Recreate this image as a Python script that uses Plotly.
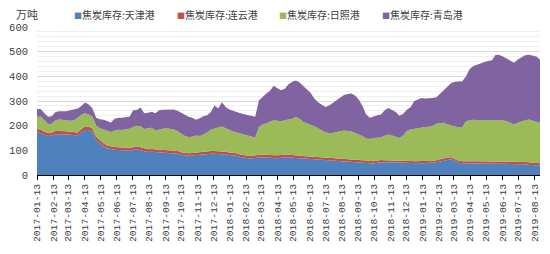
import pandas as pd
import plotly.graph_objects as go

start_date = "2017-01-13"
n_weeks = 137
dates = pd.date_range(start_date, periods=n_weeks, freq="7D")

series_names = ["焦炭库存:天津港", "焦炭库存:连云港", "焦炭库存:日照港", "焦炭库存:青岛港"]
colors = ["#4F81BD", "#C0504D", "#9BBB59", "#8064A2"]

tianjin = [172,170,162,158,160,165,165,163,164,163,
           160,160,172,182,182,175,142,128,116,108,
           104,102,101,100,98,98,100,104,100,96,
           93,94,93,92,91,90,90,89,86,82,
           79,78,79,81,83,84,86,86,86,86,
           85,83,81,80,78,73,69,68,68,70,
           72,72,71,69,68,68,70,72,72,70,
           70,68,67,66,65,64,63,62,62,61,
           60,59,58,57,57,56,55,54,53,52,
           50,47,50,52,52,52,51,51,50,50,
           50,49,48,48,48,49,50,50,52,55,
           58,62,64,58,50,48,47,47,47,47,
           47,47,47,46,46,46,45,45,45,44,
           44,44,43,42,41,40,38]

lianyun = [14,14,13,12,12,13,13,13,13,12,
           12,12,14,15,15,14,14,13,13,12,
           12,12,12,12,12,12,12,13,13,12,
           11,11,11,11,11,11,11,11,11,10,
           10,10,10,10,10,10,11,11,11,11,
           11,11,10,10,10,10,10,10,10,10,
           10,11,11,11,12,12,11,11,11,11,
           11,10,10,10,10,10,10,9,9,9,
           9,9,9,9,9,9,9,9,8,8,
           8,9,9,9,8,8,8,8,8,8,
           8,8,8,8,8,8,8,8,8,9,
           10,9,8,8,8,8,8,9,9,9,
           9,9,9,9,9,9,9,9,9,9,
           9,9,10,10,10,10,10]

rizhao = [49,54,47,36,36,44,47,46,45,45,
          50,60,58,53,48,46,44,49,56,60,
          58,66,70,70,75,78,83,83,85,78,
          86,87,76,82,86,89,87,84,81,76,
          69,66,66,69,65,70,75,87,91,93,
          101,96,91,86,84,85,86,82,78,72,
          113,122,128,135,142,140,137,139,143,147,
          155,150,138,134,130,124,117,109,101,100,
          101,106,111,114,112,111,106,101,97,88,
          88,94,91,91,100,104,101,96,92,102,
          120,127,131,135,137,138,138,142,148,147,
          144,135,130,130,135,139,163,166,168,166,
          166,165,166,165,167,167,168,164,156,152,
          159,165,169,173,171,166,164]

qingdao = [33,30,28,30,30,33,33,36,36,42,
           43,38,36,44,41,35,32,36,39,38,
           39,48,49,50,49,48,67,64,76,64,
           62,64,70,77,77,76,80,82,82,84,
           84,82,77,64,72,74,70,71,94,80,
           98,86,84,84,82,82,81,83,84,84,
           107,113,120,127,140,132,126,128,142,150,
           147,147,147,138,127,112,105,105,104,112,
           122,131,137,144,150,154,152,142,122,97,
           86,88,92,93,102,108,105,100,90,88,
           87,91,113,115,119,115,114,112,107,119,
           134,156,171,182,187,185,182,208,218,226,
           229,237,240,245,266,264,258,254,252,250,
           256,260,263,263,262,264,256]

tick_labels = ["2017-01-13","2017-02-13","2017-03-13","2017-04-13","2017-05-13","2017-06-13",
               "2017-07-13","2017-08-13","2017-09-13","2017-10-13","2017-11-13","2017-12-13",
               "2018-01-13","2018-02-13","2018-03-13","2018-04-13","2018-05-13","2018-06-13",
               "2018-07-13","2018-08-13","2018-09-13","2018-10-13","2018-11-13","2018-12-13",
               "2019-01-13","2019-02-13","2019-03-13","2019-04-13","2019-05-13","2019-06-13",
               "2019-07-13","2019-08-13"]

fig = go.Figure()
for name, vals, col in zip(series_names, [tianjin, lianyun, rizhao, qingdao], colors):
    fig.add_trace(go.Scatter(
        x=dates, y=vals, name=name, mode="lines", stackgroup="one",
        line=dict(width=0, color=col), fillcolor=col, showlegend=False,
    ))

W, H = 550, 254
ml, mr, mt, mb = 30, 9, 27, 79
pw, ph = W - ml - mr, H - mt - mb

def px_x(x):
    return (x - ml) / pw

def px_y(y):
    return (H - y - mb) / ph

# legend as text annotations
legend_x = [66, 170, 274, 378]
for lx, name, col in zip(legend_x, series_names, colors):
    fig.add_annotation(
        x=px_x(lx), y=px_y(15), xref="paper", yref="paper", showarrow=False,
        xanchor="left", yanchor="middle",
        text=f'<span style="color:{col};font-size:8px">■</span>{name}',
        font=dict(family="Noto Sans CJK SC", size=10, color="#404040"),
    )

fig.add_annotation(
    x=px_x(7), y=px_y(14), xref="paper", yref="paper", showarrow=False,
    xanchor="left", yanchor="middle", text="万吨",
    font=dict(family="Noto Sans CJK SC", size=11, color="#404040"),
)

fig.update_layout(
    width=W, height=H,
    margin=dict(l=ml, r=mr, t=mt, b=mb),
    paper_bgcolor="white", plot_bgcolor="white",
    font=dict(family="Liberation Mono", color="#404040"),
    xaxis=dict(
        type="date",
        range=[dates[0], dates[-1]],
        tickvals=tick_labels, ticktext=tick_labels,
        tickangle=-90,
        tickfont=dict(family="Liberation Mono", size=9.7, color="#404040"),
        showline=True, linecolor="black", linewidth=1,
        ticks="outside", ticklen=4, tickcolor="black",
        showgrid=False, zeroline=False,
    ),
    yaxis=dict(
        range=[0, 600], tickvals=[0, 100, 200, 300, 400, 500, 600],
        tickfont=dict(family="Liberation Mono", size=10.5, color="#404040"),
        showgrid=True, gridcolor="#D9D9D9", gridwidth=1,
        minor=dict(dtick=20, tick0=0, showgrid=True, gridcolor="#EFEFEF", gridwidth=1),
        zeroline=False, showline=False, ticks="",
        ticklabelstandoff=8,
    ),
)

fig.write_html("out.html")
